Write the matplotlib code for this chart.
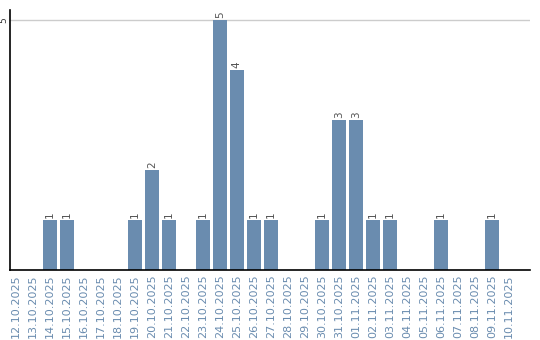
import numpy as np
import matplotlib
matplotlib.use('Agg')
import matplotlib.pyplot as plt

#%% podatki
dates = ['12.10.2025', '13.10.2025', '14.10.2025', '15.10.2025', '16.10.2025',
         '17.10.2025', '18.10.2025', '19.10.2025', '20.10.2025', '21.10.2025',
         '22.10.2025', '23.10.2025', '24.10.2025', '25.10.2025', '26.10.2025',
         '27.10.2025', '28.10.2025', '29.10.2025', '30.10.2025', '31.10.2025',
         '01.11.2025', '02.11.2025', '03.11.2025', '04.11.2025', '05.11.2025',
         '06.11.2025', '07.11.2025', '08.11.2025', '09.11.2025', '10.11.2025']
counts = [0, 0, 1, 1, 0, 0, 0, 1, 2, 1,
          0, 1, 5, 4, 1, 1, 0, 0, 1, 3,
          3, 1, 1, 0, 0, 1, 0, 0, 1, 0]

bar_color = '#6a8caf'
text_color = '#6a8caf'

#%% risanje
fig = plt.figure(figsize=(5.4, 3.4), dpi=100)
ax = fig.add_axes([10/540, 70/340, 520/540, 260/340])

x = np.arange(len(dates))
bars = ax.bar(x, counts, width=0.82, color=bar_color, zorder=2)

for xi, c in zip(x, counts):
    if c > 0:
        ax.text(xi, c + 0.04, str(c), rotation=90, ha='center', va='bottom',
                fontsize=7.5, color='#555555')

ax.set_xlim(-0.35, 30.24)
ax.set_ylim(0, 5.2)
ax.set_xticks(x)
ax.set_xticklabels(dates, rotation=90, fontsize=8, color=text_color)
ax.set_yticks([5])
ax.set_yticklabels(['5'], rotation=90, va='center', fontsize=6.5, color='#333333')
ax.tick_params(axis='x', length=0, pad=3)
ax.tick_params(axis='y', length=0, pad=1)
ax.axhline(5, color='#cccccc', lw=1, zorder=1)

for s in ['top', 'right']:
    ax.spines[s].set_visible(False)
ax.spines['left'].set_linewidth(1.2)
ax.spines['bottom'].set_linewidth(1.2)

fig.savefig('out.png', dpi=100)
